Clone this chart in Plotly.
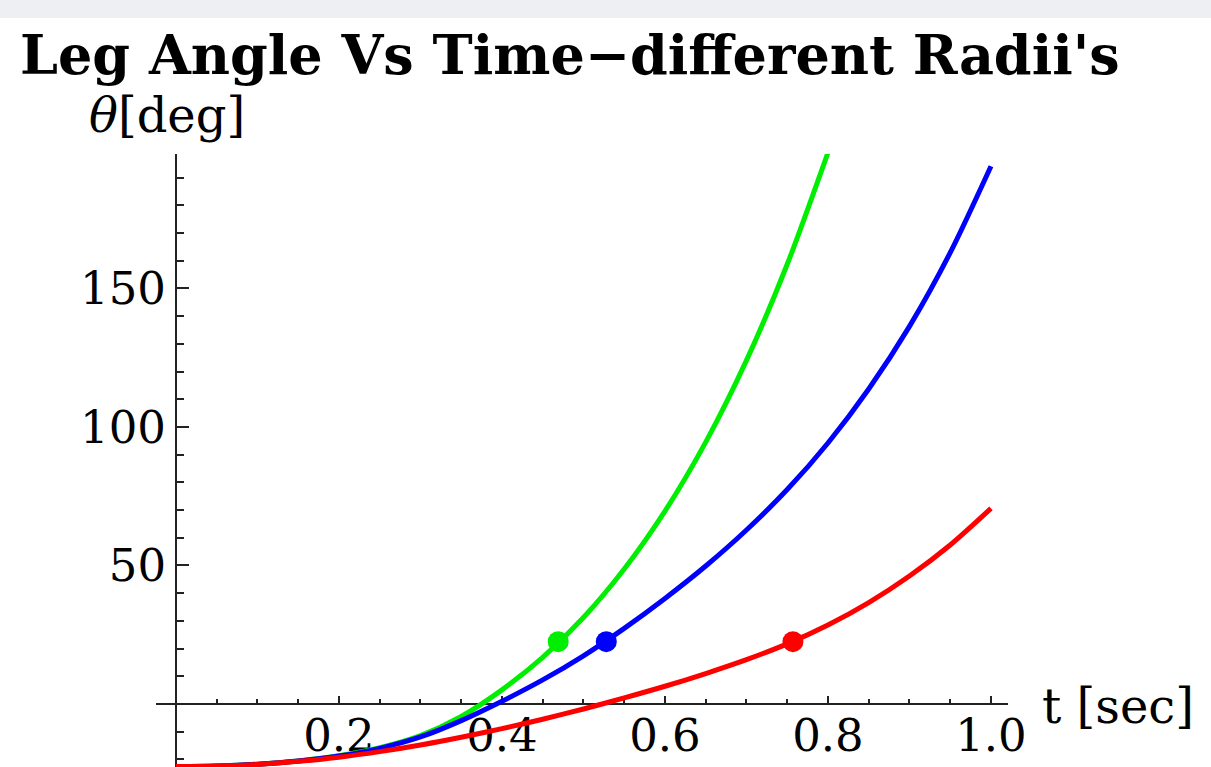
import plotly.graph_objects as go

# ---- data ----
t_full = [0.0, 0.05, 0.1, 0.15, 0.2, 0.25, 0.3, 0.35, 0.4, 0.45, 0.5,
          0.55, 0.6, 0.65, 0.7, 0.75, 0.8, 0.85, 0.9, 0.95, 1.0]
t_green = [0.0, 0.05, 0.1, 0.15, 0.2, 0.25, 0.3, 0.35, 0.4, 0.45, 0.5,
           0.55, 0.6, 0.65, 0.7, 0.75, 0.8]

theta_green = [-22.6, -22.4, -21.75, -20.55, -18.7, -15.8, -11.4, -4.5, 5.1, 16.8, 31.2,
               48.7, 69.6, 94.5, 124.0, 158.7, 199.0]
theta_blue = [-22.6, -22.4, -21.75, -20.6, -18.8, -16.0, -11.9, -6.0, 1.0, 8.7, 17.4,
              27.3, 38.1, 49.8, 62.8, 77.4, 94.2, 113.7, 136.3, 162.9, 194.1]
theta_red = [-22.6, -22.4, -21.8, -20.7, -19.2, -17.2, -14.8, -12.0, -8.9, -5.5, -1.8,
             2.2, 6.4, 11.0, 16.0, 21.7, 28.5, 36.6, 46.2, 57.4, 70.6]

dot_t = [0.469, 0.528, 0.757]
dot_theta = [22.5, 22.5, 22.5]
colors = ["#00ee00", "#0000ff", "#ff0000"]

x_tickvals = [0.2, 0.4, 0.6, 0.8, 1.0]
x_ticktext = ["0.2", "0.4", "0.6", "0.8", "1.0"]
x_minor = [0.05, 0.1, 0.15, 0.25, 0.3, 0.35, 0.45, 0.5, 0.55, 0.65, 0.7, 0.75, 0.85, 0.9, 0.95]
y_tickvals = [50, 100, 150]
y_ticktext = ["50", "100", "150"]
y_minor = [-20, -10, 10, 20, 30, 40, 60, 70, 80, 90, 110, 120, 130, 140, 160, 170, 180, 190]

FONT = "DejaVu Serif"

fig = go.Figure()
series = [(t_green, theta_green, colors[0]),
          (t_full, theta_blue, colors[1]),
          (t_full, theta_red, colors[2])]
for tx, ty, c in series:
    fig.add_trace(go.Scatter(x=tx, y=ty, mode="lines",
                             line=dict(color=c, width=5, shape="spline", smoothing=0.8),
                             hoverinfo="skip"))
for i in range(3):
    fig.add_trace(go.Scatter(x=[dot_t[i]], y=[dot_theta[i]], mode="markers",
                             marker=dict(color=colors[i], size=21, line=dict(width=0)),
                             hoverinfo="skip"))

axis_common = dict(showline=True, linecolor="#222222", linewidth=2,
                   ticks="inside", tickcolor="#222222", tickwidth=2,
                   showgrid=False, zeroline=False, layer="below traces",
                   tickfont=dict(family=FONT, size=45, color="black"),
                   tickmode="array", automargin=False)

fig.update_layout(
    width=1211, height=767,
    margin=dict(l=156, r=203, t=154, b=0, autoexpand=False),
    paper_bgcolor="white", plot_bgcolor="white",
    showlegend=False,
    title=dict(text="Leg Angle Vs Time\u2212different Radii's",
               font=dict(family=FONT, size=54, color="black", weight="bold"),
               xref="container", x=20 / 1211, xanchor="left",
               yref="container", y=1 - 55 / 767, yanchor="middle"),
    xaxis=dict(range=[-0.0245, 1.0209], anchor="free", position=0.1028,
               tickvals=x_tickvals, ticktext=x_ticktext, ticklen=7,
               ticklabelstandoff=-8,
               minor=dict(tickmode="array", tickvals=x_minor, ticks="inside", ticklen=4,
                          tickwidth=1.5, tickcolor="#222222", showgrid=False),
               **axis_common),
    yaxis=dict(range=[-22.74, 198.5], anchor="free", position=0.0235,
               tickvals=y_tickvals, ticktext=y_ticktext, ticklen=12,
               minor=dict(tickmode="array", tickvals=y_minor, ticks="inside", ticklen=7,
                          tickwidth=1.5, tickcolor="#222222", showgrid=False),
               **axis_common),
    shapes=[dict(type="rect", xref="paper", yref="paper",
                 x0=-0.2, x1=1.3, y0=(767 - 18) / 613, y1=1.3,
                 fillcolor="#eeeff2", line=dict(width=0), layer="below")],
    annotations=[
        dict(text="<i>\u03b8</i>[deg]", xref="paper", yref="paper",
             x=(87 - 156) / 852, y=(767 - 115) / 613, xanchor="left", yanchor="middle",
             showarrow=False, font=dict(family=FONT, size=48, color="black")),
        dict(text="t [sec]", xref="paper", yref="paper",
             x=(1040 - 156) / 852, y=(767 - 706) / 613, xanchor="left", yanchor="middle",
             showarrow=False, font=dict(family=FONT, size=48, color="black")),
    ],
)

fig.write_html("out.html")
